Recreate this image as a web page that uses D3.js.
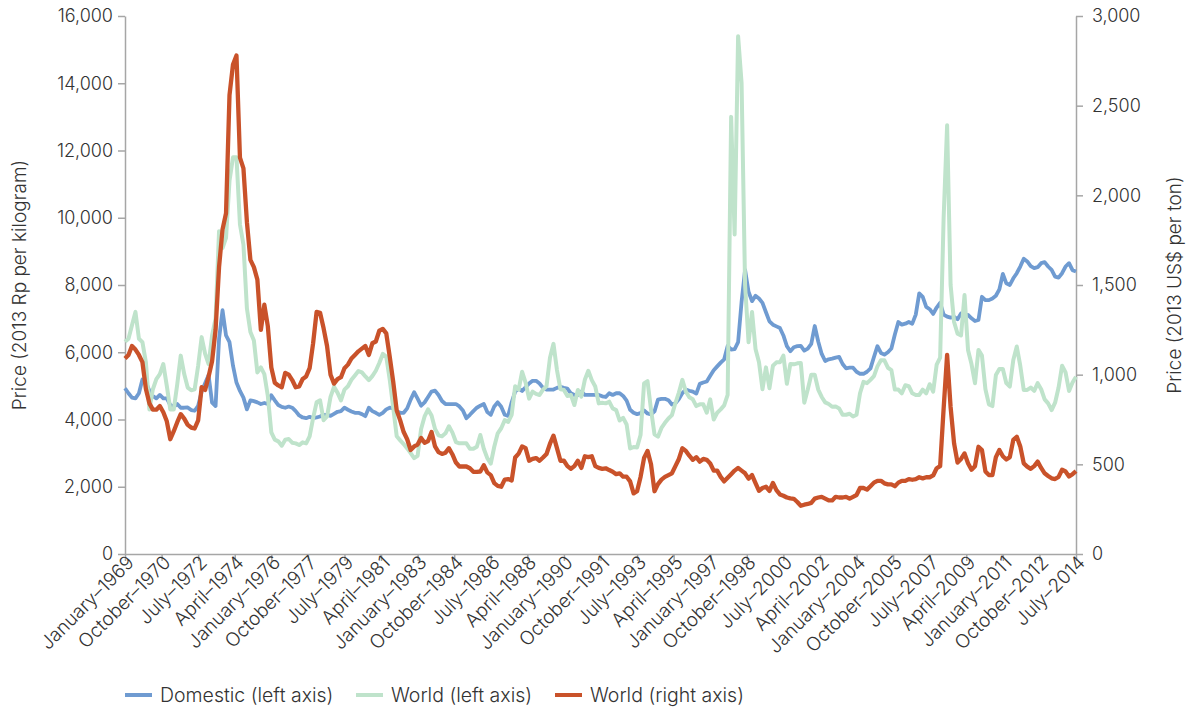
<!DOCTYPE html>
<html><head><meta charset="utf-8">
<script src="https://cdn.jsdelivr.net/npm/d3@7"></script>
<style>
body{margin:0;background:#fff;}
text{font-family:Inter,"Open Sans",sans-serif;fill:#333;}
</style></head><body>
<svg id="chart" width="1187" height="710"></svg>
<script>
// X categories: monthly from January 1969; values sampled every 2 months
const monthStep = 2;
const tickLabels = ["January–1969","October–1970","July–1972","April–1974","January–1976","October–1977","July–1979","April–1981","January–1983","October–1984","July–1986","April–1988","January–1990","October–1991","July–1993","April–1995","January–1997","October–1998","July–2000","April–2002","January–2004","October–2005","July–2007","April–2009","January–2011","October–2012","July–2014"];
const tickEvery = 21; // months between labels
const leftTicks = [0,2000,4000,6000,8000,10000,12000,14000,16000];
const rightTicks = [0,500,1000,1500,2000,2500,3000];

// Domestic price (2013 Rp per kilogram), left axis
const domestic = [
4930,4780,4650,4630,4780,5190,5120,4850,4700,4630,
4730,4630,4630,4430,4380,4460,4350,4350,4360,4280,
4260,4410,4830,5080,5320,4500,4400,6400,7250,6500,
6300,5600,5100,4850,4650,4300,4570,4545,4510,4460,
4490,4460,4720,4570,4430,4375,4350,4385,4350,4250,
4120,4060,4040,4080,4040,4060,4090,4140,4140,4110,
4170,4230,4250,4350,4290,4240,4200,4200,4160,4100,
4350,4250,4200,4140,4200,4300,4350,4330,4250,4200,
4200,4330,4590,4810,4620,4410,4510,4670,4830,4860,
4730,4550,4460,4460,4460,4460,4390,4270,4040,4140,
4250,4350,4410,4460,4220,4140,4390,4510,4380,4140,
4110,4510,4830,4920,4850,4960,5070,5150,5150,5070,
4940,4890,4890,4890,4940,4970,4940,4920,4780,4730,
4730,4830,4730,4730,4730,4730,4730,4690,4670,4780,
4730,4780,4780,4700,4560,4290,4200,4160,4190,4270,
4180,4150,4240,4590,4615,4615,4575,4445,4480,4610,
4785,4890,4855,4830,4770,5060,5100,5130,5300,5465,
5580,5690,5790,6190,6080,6090,6300,7500,8450,7800,
7520,7680,7600,7470,7190,6920,6820,6770,6720,6500,
6180,6030,6150,6180,6190,6050,6110,6250,6780,6320,
5950,5740,5790,5810,5840,5860,5650,5520,5540,5540,
5420,5360,5360,5420,5520,5860,6180,5980,5930,6000,
6110,6530,6900,6820,6850,6900,6850,7120,7750,7650,
7350,7280,7140,7330,7470,7120,7060,7030,7050,6980,
7150,7080,7110,7010,6930,6960,7650,7550,7550,7600,
7680,7870,8330,8050,8000,8200,8350,8550,8780,8700,
8560,8500,8530,8650,8680,8550,8450,8250,8220,8350,
8550,8650,8440,8400];

// World price (2013 Rp per kilogram), left axis
const worldLeft = [
6310,6400,6800,7200,6400,6300,5700,4300,4900,5200,
5350,5650,5000,4300,4300,5050,5900,5350,4950,4870,
4900,5600,6450,5950,5650,6500,7000,9600,9100,9400,
11100,11800,11800,9800,9200,7300,6600,6350,5400,5550,
5350,4700,3620,3400,3350,3220,3400,3420,3310,3290,
3240,3320,3290,3500,4040,4510,4570,3980,4090,4670,
4970,4800,4570,4890,4990,5180,5310,5440,5400,5280,
5170,5290,5450,5680,5950,5870,5180,4350,3500,3380,
3270,3140,3000,2850,2920,3720,4090,4300,4120,3720,
3530,3500,3590,3800,3610,3330,3290,3290,3290,3130,
3130,3190,3540,3130,2850,2690,3190,3590,3740,3980,
3930,4140,4990,4890,5420,5100,4620,4830,4760,4730,
4890,4990,5840,6250,5470,4900,4880,4700,4730,4430,
4880,4680,5180,5450,5170,4980,4480,4500,4480,4530,
4330,4280,3970,4050,3850,3140,3180,3170,3540,5070,
5140,4300,3560,3490,3750,3900,4030,4130,4490,4800,
5180,4830,4660,4600,4400,4450,4450,4200,4600,4000,
4200,4300,4420,4730,13000,9500,15400,14000,8000,6300,
7200,6100,5700,4900,5550,4930,5600,5700,5700,5900,
5060,5650,5640,5670,5680,4500,4890,5330,5330,4890,
4670,4510,4460,4380,4390,4330,4140,4140,4170,4090,
4140,4780,5120,5080,5180,5290,5580,5760,5760,5540,
5470,4890,4890,4780,5020,4990,4780,4730,4730,4890,
4780,5050,4830,5630,5840,10000,12750,8000,6900,6550,
6500,7700,6070,5650,5080,6070,5900,4900,4450,4400,
5320,5500,5500,5080,4980,5770,6170,5600,4880,4880,
4950,4850,5080,4900,4600,4480,4280,4500,4950,5600,
5400,4850,5100,5270];

// World price (2013 US$ per ton), right axis
const worldRight = [
1090,1110,1160,1140,1110,1070,920,840,805,805,
825,790,740,640,685,735,780,755,720,705,
700,745,930,915,990,1075,1250,1600,1810,1900,
2560,2730,2780,2210,2150,1850,1640,1600,1530,1250,
1390,1270,1040,955,940,930,1010,1000,970,930,
935,976,990,1036,1175,1350,1345,1260,1160,1000,
950,975,986,1036,1056,1090,1110,1130,1145,1160,
1110,1175,1185,1245,1255,1230,1100,960,800,745,
680,640,580,600,610,647,620,630,680,600,
568,558,565,590,555,510,488,488,488,478,
458,458,460,495,455,440,395,380,375,415,
418,410,538,560,600,590,520,530,535,520,
538,558,615,660,590,520,520,490,475,490,
520,480,545,540,545,490,480,475,478,468,
459,445,450,431,431,405,338,350,430,535,
575,500,350,390,415,430,440,450,490,530,
590,575,548,525,540,515,530,525,505,465,
465,430,405,425,445,465,480,465,450,420,
440,395,352,368,375,352,396,356,332,325,
315,310,308,290,269,275,279,285,309,315,
319,309,299,299,319,315,315,319,309,319,
329,368,368,359,378,398,408,408,394,388,
388,378,398,408,408,418,414,418,428,422,
428,428,438,478,490,810,1110,820,617,510,
530,561,506,470,490,598,580,460,440,440,
540,580,545,527,540,636,654,600,505,487,
475,490,515,480,450,435,422,418,430,470,
460,432,445,462];

const seriesNames = ["Domestic (left axis)","World (left axis)","World (right axis)"];
const colors = ["#6f9bd1","#bfe3cb","#c9522a"];

const svg = d3.select("#chart");
const L = 125, R = 1076, T = 16, B = 554;
const lastMonth = (domestic.length - 1) * monthStep;
const x = d3.scaleLinear().domain([0, lastMonth]).range([L, R]);
const yL = d3.scaleLinear().domain([0, 16000]).range([B, T]);
const yR = d3.scaleLinear().domain([0, 3000]).range([B, T]);
const axisColor = "#a6a6a6";
const FONT = 'Inter, "Open Sans", sans-serif';
const W8 = 300;

function styleAxis(g, fs){
  g.selectAll("path.domain").attr("stroke", axisColor).attr("stroke-width", 1.5);
  g.selectAll(".tick line").attr("stroke", axisColor).attr("stroke-width", 1.5);
  g.selectAll(".tick text").attr("font-size", fs).attr("fill", "#2b2b2b")
    .attr("font-family", FONT).attr("font-weight", W8);
}

// Left axis
const gL = svg.append("g").attr("transform", `translate(${L},0)`)
  .call(d3.axisLeft(yL).tickValues(leftTicks).tickFormat(d3.format(",")).tickSize(7).tickSizeOuter(0).tickPadding(5));
styleAxis(gL, 18);
// Right axis
const gR = svg.append("g").attr("transform", `translate(${R},0)`)
  .call(d3.axisRight(yR).tickValues(rightTicks).tickFormat(d3.format(",")).tickSize(7).tickSizeOuter(0).tickPadding(9));
styleAxis(gR, 18);
// Bottom axis
const tickMonths = tickLabels.map((d, i) => i * tickEvery);
const gX = svg.append("g").attr("transform", `translate(0,${B})`)
  .call(d3.axisBottom(x).tickValues(tickMonths).tickFormat((d, i) => tickLabels[i]).tickSize(7).tickSizeOuter(0));
styleAxis(gX, 19);
gX.selectAll(".tick text")
  .attr("text-anchor", "end")
  .attr("transform", "translate(5,5) rotate(-45)")
  .attr("dy", "0.35em").attr("y", 0).attr("x", 0);

// Lines
const line = (yScale) => d3.line().x((d, i) => x(i * monthStep)).y(d => yScale(d)).curve(d3.curveLinear);
const data = [
  {vals: domestic, y: yL, c: colors[0], w: 3.8},
  {vals: worldLeft, y: yL, c: colors[1], w: 4},
  {vals: worldRight, y: yR, c: colors[2], w: 4.3}
];
data.forEach(s => {
  svg.append("path").datum(s.vals)
    .attr("d", line(s.y))
    .attr("fill", "none").attr("stroke", s.c).attr("stroke-width", s.w)
    .attr("stroke-linejoin", "round");
});

// Axis titles
svg.append("text").attr("transform", `translate(19,${(T+B)/2}) rotate(-90)`)
  .attr("text-anchor", "middle").attr("dy", "0.35em").attr("font-size", 19).attr("font-weight", W8)
  .attr("fill", "#2b2b2b").text("Price (2013 Rp per kilogram)");
svg.append("text").attr("transform", `translate(1174,${(T+B)/2}) rotate(-90)`)
  .attr("text-anchor", "middle").attr("dy", "0.35em").attr("font-size", 19).attr("font-weight", W8)
  .attr("fill", "#2b2b2b").text("Price (2013 US$ per ton)");

// Legend
const legX = [125, 356, 555];
const legY = 695;
seriesNames.forEach((n, i) => {
  svg.append("line").attr("x1", legX[i]).attr("x2", legX[i] + 27)
    .attr("y1", legY).attr("y2", legY).attr("stroke", colors[i]).attr("stroke-width", 4);
  svg.append("text").attr("x", legX[i] + 35).attr("y", legY).attr("dy", "0.35em")
    .attr("font-size", 19.5).attr("font-weight", W8).attr("fill", "#2b2b2b").text(n);
});
</script></body></html>
